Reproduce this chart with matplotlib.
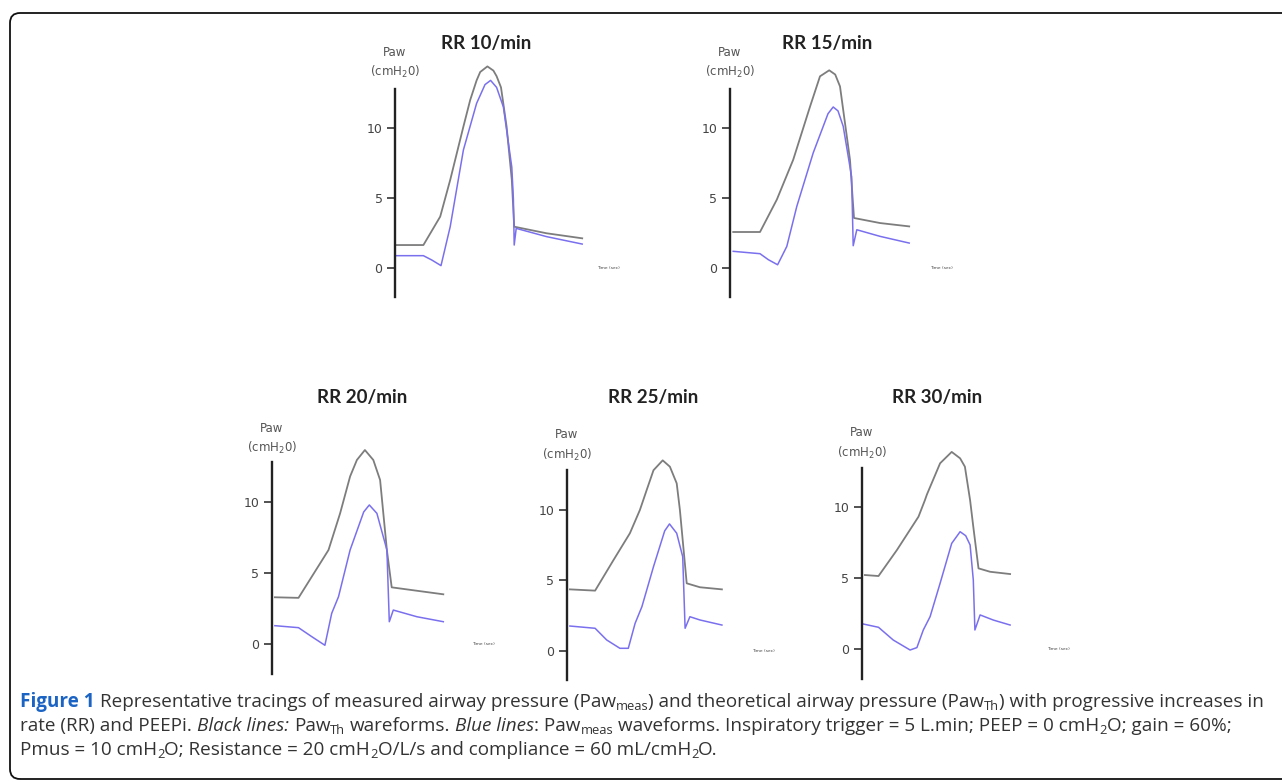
import matplotlib
matplotlib.use("Agg")
import matplotlib.pyplot as plt
from matplotlib.patches import FancyBboxPatch
from matplotlib.transforms import IdentityTransform

W, H = 1282, 782

# time (s) and airway pressure (cmH2O)
titles = ["RR 10/min", "RR 15/min", "RR 20/min", "RR 25/min", "RR 30/min"]

t_th_10 = [0.04, 0.71, 1.13, 1.38, 1.71, 1.88, 2.04, 2.13, 2.31, 2.46, 2.54, 2.65, 2.79, 2.92, 2.98, 3.79, 4.68]
p_th_10 = [1.64, 1.64, 3.67, 6.29, 10.1, 12.0, 13.4, 14.0, 14.4, 14.1, 13.7, 12.9, 10.1, 6.3, 2.95, 2.48, 2.12]
t_meas_10 = [0.04, 0.71, 0.92, 1.15, 1.38, 1.71, 2.04, 2.25, 2.39, 2.54, 2.71, 2.92, 2.96, 2.98, 3.03, 3.79, 4.68]
p_meas_10 = [0.88, 0.88, 0.57, 0.17, 2.95, 8.43, 11.76, 13.1, 13.4, 12.9, 11.5, 7.2, 4.9, 1.64, 2.83, 2.24, 1.71]

t_th_15 = [0.08, 0.75, 1.17, 1.58, 2.0, 2.25, 2.48, 2.63, 2.75, 3.0, 3.1, 3.75, 4.48]
p_th_15 = [2.55, 2.55, 4.86, 7.71, 11.5, 13.67, 14.1, 13.8, 12.95, 7.7, 3.55, 3.19, 2.95]
t_meas_15 = [0.08, 0.75, 0.96, 1.19, 1.42, 1.67, 2.08, 2.45, 2.58, 2.7, 2.83, 3.04, 3.08, 3.17, 3.75, 4.48]
p_meas_15 = [1.17, 1.0, 0.57, 0.21, 1.52, 4.38, 8.2, 11.0, 11.48, 11.2, 10.1, 6.5, 1.57, 2.71, 2.24, 1.76]

t_th_20 = [0.08, 0.67, 1.42, 1.71, 1.96, 2.13, 2.33, 2.54, 2.71, 2.88, 3.0, 3.63, 4.29]
p_th_20 = [3.29, 3.25, 6.62, 9.2, 11.8, 12.96, 13.66, 12.96, 11.55, 6.6, 3.99, 3.75, 3.5]
t_meas_20 = [0.08, 0.67, 1.0, 1.33, 1.5, 1.67, 1.96, 2.3, 2.44, 2.63, 2.88, 2.94, 3.04, 3.63, 4.29]
p_meas_20 = [1.29, 1.15, 0.52, -0.09, 2.16, 3.33, 6.62, 9.3, 9.79, 9.2, 6.62, 1.57, 2.39, 1.92, 1.57]

t_th_25 = [0.08, 0.71, 1.17, 1.58, 1.83, 2.0, 2.17, 2.4, 2.58, 2.75, 2.83, 3.0, 3.33, 3.88]
p_th_25 = [4.35, 4.26, 6.43, 8.33, 9.98, 11.4, 12.8, 13.5, 13.05, 11.87, 9.98, 4.78, 4.5, 4.35]
t_meas_25 = [0.08, 0.71, 1.0, 1.33, 1.54, 1.71, 1.88, 2.17, 2.45, 2.57, 2.75, 2.9, 2.96, 3.08, 3.33, 3.88]
p_meas_25 = [1.75, 1.59, 0.76, 0.17, 0.17, 1.94, 3.12, 5.96, 8.5, 8.99, 8.33, 6.67, 1.59, 2.41, 2.18, 1.82]

t_th_30 = [0.08, 0.42, 0.88, 1.42, 1.58, 1.63, 1.96, 2.25, 2.46, 2.58, 2.71, 2.79, 2.92, 3.21, 3.71]
p_th_30 = [5.23, 5.16, 6.99, 9.34, 10.5, 10.9, 13.1, 13.9, 13.45, 12.86, 10.5, 8.63, 5.7, 5.46, 5.3]
t_meas_30 = [0.04, 0.42, 0.79, 1.21, 1.38, 1.54, 1.71, 1.96, 2.25, 2.46, 2.6, 2.71, 2.79, 2.83, 2.96, 3.29, 3.71]
p_meas_30 = [1.78, 1.55, 0.65, -0.05, 0.12, 1.36, 2.3, 4.65, 7.46, 8.28, 8.0, 7.35, 4.88, 1.36, 2.42, 2.06, 1.71]

yticks = [0, 5, 10]

th_curves = [(t_th_10, p_th_10), (t_th_15, p_th_15), (t_th_20, p_th_20), (t_th_25, p_th_25), (t_th_30, p_th_30)]
meas_curves = [(t_meas_10, p_meas_10), (t_meas_15, p_meas_15), (t_meas_20, p_meas_20),
               (t_meas_25, p_meas_25), (t_meas_30, p_meas_30)]

# layout in pixels: spine x, y of zero line, px per cmH2O, title centre, Paw label y, time label x
spine_x = [395, 730, 271.7, 566.7, 861.7]
zero_y = [268, 267.7, 644, 650.7, 649.3]
px_unit = [14, 14, 14.2, 14.1, 14.2]
title_xy = [(485.7, 43), (827.5, 43), (362, 397), (653, 397), (937.5, 397)]
paw_y = [52, 52, 428, 435, 433]
time_lbl_x = [5.04, 5.0, 5.0, 4.63, 4.63]

PX_SEC = 40.0
XMAX = 5.6
YLO, YHI = -2.5, 15.5

BLACK_LINE = "#7d7d7d"
BLUE_LINE = "#7a70ee"

fig = plt.figure(figsize=(W / 100, H / 100), dpi=100)

# rounded frame round the figure
frame = FancyBboxPatch((10, 3), 1400, 766, boxstyle="round,pad=0,rounding_size=10",
                       transform=IdentityTransform(), fill=False, ec="#111111", lw=1.3)
fig.add_artist(frame)


def fx(px):
    return px / W


def fy(py):
    return (H - py) / H


for i in range(5):
    k = px_unit[i]
    left = fx(spine_x[i])
    bottom = fy(zero_y[i] - YLO * k)
    ax = fig.add_axes([left, bottom, XMAX * PX_SEC / W, (YHI - YLO) * k / H])
    ax.set_xlim(0, XMAX)
    ax.set_ylim(YLO, YHI)
    ax.patch.set_alpha(0)

    ax.plot(th_curves[i][0], th_curves[i][1], color=BLACK_LINE, lw=1.3, clip_on=False,
            solid_joinstyle="round")
    ax.plot(meas_curves[i][0], meas_curves[i][1], color=BLUE_LINE, lw=1.1, clip_on=False,
            solid_joinstyle="round")

    for s in ["top", "right", "bottom"]:
        ax.spines[s].set_visible(False)
    ax.spines["left"].set_bounds(-2.1, 12.8)
    ax.spines["left"].set_linewidth(1.7)
    ax.spines["left"].set_color("#222222")
    ax.set_xticks([])
    ax.set_yticks(yticks)
    ax.tick_params(axis="y", length=6, width=1.2, color="#333333", pad=3,
                   labelsize=9, labelcolor="#444444")

    ax.text(time_lbl_x[i], 0, "Time (sec)", fontsize=3.2, color="#444444", va="center")

    fig.text(fx(spine_x[i]), fy(paw_y[i]), "Paw", ha="center", va="center",
             fontsize=8.5, color="#555555")
    fig.text(fx(spine_x[i]), fy(paw_y[i] + 20), "(cmH$_2$0)", ha="center", va="center",
             fontsize=8.5, color="#555555")
    fig.text(fx(title_xy[i][0]), fy(title_xy[i][1]), titles[i], ha="center", va="center",
             fontsize=13.5, fontweight="bold", color="#222222", family="Lato")


# caption, drawn piece by piece so subscripts and styles line up
CAP_SIZE = 13.6
CAP_COLOR = "#333333"
caption = [
    [("Figure 1", "fig"), (" Representative tracings of measured airway pressure (Paw", "n"), ("meas", "sub"),
     (") and theoretical airway pressure (Paw", "n"), ("Th", "sub"), (") with progressive increases in", "n")],
    [("rate (RR) and PEEPi. ", "n"), ("Black lines:", "it"), (" Paw", "n"), ("Th", "sub"),
     (" wareforms. ", "n"), ("Blue lines", "it"), (": Paw", "n"), ("meas", "sub"),
     (" waveforms. Inspiratory trigger = 5 L.min; PEEP = 0 cmH", "n"), ("2", "sub"), ("O; gain = 60%;", "n")],
    [("Pmus = 10 cmH", "n"), ("2", "sub"), ("O; Resistance = 20 cmH", "n"), ("2", "sub"),
     ("O/L/s and compliance = 60 mL/cmH", "n"), ("2", "sub"), ("O.", "n")],
]
line_y = [702, 726, 750]

renderer = fig.canvas.get_renderer()
probe = fig.text(0, 0, "a a", fontsize=CAP_SIZE, family="Open Sans")
w2 = probe.get_window_extent(renderer).width
probe.set_text("aa")
space_w = w2 - probe.get_window_extent(renderer).width
probe.remove()

for line, ly in zip(caption, line_y):
    x = 20.0
    for txt, style in line:
        if txt.startswith(" "):
            x += space_w
        kw = dict(fontsize=CAP_SIZE, color=CAP_COLOR, family="Open Sans", va="baseline")
        y = ly + 5
        if style == "fig":
            kw.update(fontweight="bold", color="#1c64c4")
        elif style == "it":
            kw.update(style="italic")
        elif style == "sub":
            kw.update(fontsize=CAP_SIZE * 0.68)
            y = ly + 8.5
        t = fig.text(fx(x), fy(y), txt.strip(), **kw)
        x += t.get_window_extent(renderer).width
        if txt.endswith(" "):
            x += space_w

fig.savefig("out.png", dpi=100)
